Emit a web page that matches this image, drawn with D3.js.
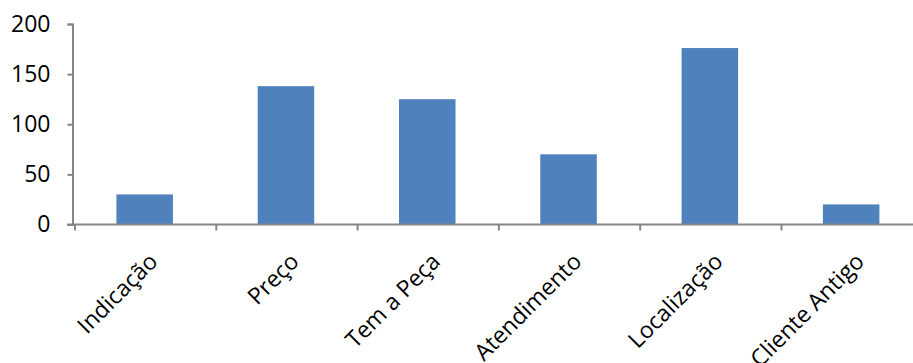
<!DOCTYPE html>
<html>
<head>
<meta charset="utf-8">
<script src="https://cdn.jsdelivr.net/npm/d3@7"></script>
<style>
  body { margin: 0; background: #fff; }
  svg { display: block; }
</style>
</head>
<body>
<div id="chart"></div>
<script>
const categories = ["Indicação", "Preço", "Tem a Peça", "Atendimento", "Localização", "Cliente Antigo"];
const values = [30, 138, 125, 70, 176, 20];
const yTicks = [0, 50, 100, 150, 200];

const width = 913, height = 363;
const margin = {top: 24, left: 74, bottom: 138};
const plotW = 141.3 * categories.length;

const svg = d3.select("#chart").append("svg")
  .attr("width", width)
  .attr("height", height)
  .style("font-family", "'Open Sans', sans-serif");

const x = d3.scaleBand()
  .domain(categories)
  .range([margin.left, margin.left + plotW])
  .paddingInner(0.6)
  .paddingOuter(0.3);

const y = d3.scaleLinear()
  .domain([0, 200])
  .range([height - margin.bottom - 0.5, margin.top]);

const axisColor = "#868686";

// bars
svg.append("g")
  .selectAll("rect")
  .data(values)
  .enter().append("rect")
  .attr("x", (d, i) => x(categories[i]))
  .attr("y", d => y(d))
  .attr("width", x.bandwidth())
  .attr("height", d => y(0) - y(d))
  .attr("fill", "#4F81BD");

// y axis
const yAxis = svg.append("g")
  .attr("transform", `translate(${margin.left - 1.5},0)`)
  .call(d3.axisLeft(y).tickValues(yTicks).tickSize(5).tickPadding(17));
yAxis.select(".domain").attr("stroke", axisColor).attr("stroke-width", 2);
yAxis.selectAll(".tick line").attr("stroke", axisColor).attr("stroke-width", 2);
yAxis.selectAll(".tick text")
  .attr("fill", "#000")
  .style("font-size", "23px")
  .style("font-family", "'Open Sans', sans-serif");

// x axis
const step = x.step();
const xAxis = svg.append("g")
  .attr("transform", `translate(0,${y(0)})`);
xAxis.append("line")
  .attr("x1", margin.left - 7)
  .attr("x2", width)
  .attr("stroke", axisColor)
  .attr("stroke-width", 2);
xAxis.selectAll(".xtick")
  .data(d3.range(categories.length + 1))
  .enter().append("line")
  .attr("class", "xtick")
  .attr("x1", i => margin.left + 1 + i * step)
  .attr("x2", i => margin.left + 1 + i * step)
  .attr("y1", 0)
  .attr("y2", 6)
  .attr("stroke", axisColor)
  .attr("stroke-width", 2);

xAxis.selectAll(".xlabel")
  .data(categories)
  .enter().append("text")
  .attr("class", "xlabel")
  .attr("transform", d => `translate(${x(d) + x.bandwidth() / 2 + 3},${27}) rotate(-45)`)
  .attr("text-anchor", "end")
  .attr("dy", "0.7em")
  .style("font-size", "23px")
  .attr("fill", "#000")
  .text(d => d);
</script>
</body>
</html>
